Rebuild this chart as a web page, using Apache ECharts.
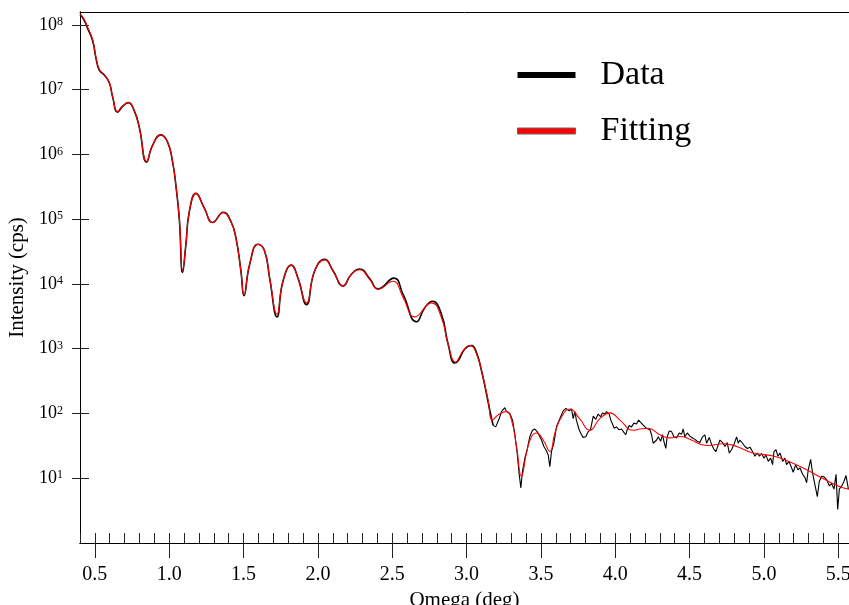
<!DOCTYPE html>
<html>
<head>
<meta charset="utf-8">
<script src="https://cdn.jsdelivr.net/npm/echarts@6/dist/echarts.min.js"></script>
<style>
  html, body { margin: 0; padding: 0; background: #fff; }
  #chart { width: 849px; height: 605px; }
</style>
</head>
<body>
<div id="chart"></div>
<script>
const chart = echarts.init(document.getElementById('chart'));
const serif = "'Liberation Serif', 'Times New Roman', serif";

// fitted curve
const fitOmega = [0.400, 0.425, 0.450, 0.485, 0.507, 0.530, 0.563, 0.597, 0.619, 0.653, 0.686, 0.725, 0.765, 0.799, 0.848,
  0.888, 0.944, 0.989, 1.023, 1.045, 1.068, 1.090, 1.112, 1.135, 1.180, 1.236, 1.292, 1.364, 1.415, 1.449, 1.482, 1.503,
  1.541, 1.597, 1.642, 1.676, 1.725, 1.765, 1.822, 1.866, 1.923, 1.978, 2.046, 2.102, 2.169, 2.225, 2.281, 2.349, 2.404,
  2.505, 2.573, 2.651, 2.764, 2.831, 2.876, 2.925, 2.977, 3.022, 3.067, 3.111, 3.145, 3.174, 3.212, 3.268, 3.302, 3.336,
  3.369, 3.403, 3.437, 3.470, 3.515, 3.560, 3.594, 3.639, 3.695, 3.760, 3.829, 3.896, 3.964, 4.031, 4.121, 4.165, 4.222,
  4.300, 4.367, 4.434, 4.501, 4.614, 4.726, 4.816, 4.928, 5.063, 5.175, 5.287, 5.399, 5.512, 5.572];
const fitIntensity = [1.45e8, 1.25e8, 9.3e7, 5.9e7, 3.2e7, 2.05e7, 1.7e7, 1.29e7, 7.9e6, 4.6e6, 5.6e6, 6.3e6, 4.7e6, 2.6e6, 7.8e5,
  1.38e6, 2.0e6, 1.55e6, 7.6e5, 3.3e5, 1.02e5, 1.6e4, 4.0e4, 1.29e5, 2.5e5, 1.48e5, 8.9e4, 1.26e5, 9.1e4, 5.1e4, 1.6e4, 6.8e3,
  2.0e4, 4.1e4, 3.2e4, 1.23e4, 3.4e3, 1.1e4, 1.95e4, 1.23e4, 5.1e3, 1.58e4, 2.35e4, 1.58e4, 9.3e3, 1.41e4, 1.66e4, 1.17e4, 8.3e3,
  1.1e4, 6.2e3, 3.1e3, 5.1e3, 3.0e3, 1.17e3, 620, 930, 1120, 830, 360, 160, 79, 95, 107, 79, 31,
  10.7, 24.5, 44, 50, 39, 26, 50, 89, 117, 83, 55, 83, 102, 79, 55, 57.5, 59,
  47, 42, 44, 40, 32, 34, 31, 24.5, 22, 17.8, 13.5, 9.8, 7.4, 6.8];

// measured data, smooth part
const dataOmega = [0.400, 0.425, 0.450, 0.485, 0.507, 0.530, 0.563, 0.597, 0.619, 0.653, 0.686, 0.725, 0.765, 0.799, 0.848,
  0.888, 0.944, 0.989, 1.023, 1.045, 1.068, 1.090, 1.112, 1.135, 1.180, 1.236, 1.292, 1.364, 1.415, 1.449, 1.482, 1.503,
  1.541, 1.597, 1.642, 1.676, 1.725, 1.765, 1.822, 1.866, 1.923, 1.978, 2.046, 2.102, 2.169, 2.225, 2.281, 2.349, 2.404,
  2.512, 2.573, 2.663, 2.719, 2.770, 2.831, 2.876, 2.921, 2.943, 2.988, 3.033, 3.066, 3.100, 3.134, 3.156, 3.178];
const dataIntensity = [1.45e8, 1.22e8, 9.0e7, 5.7e7, 3.1e7, 2.0e7, 1.68e7, 1.28e7, 7.8e6, 4.5e6, 5.5e6, 6.3e6, 4.7e6, 2.6e6, 7.6e5,
  1.38e6, 2.0e6, 1.55e6, 7.6e5, 3.3e5, 1.0e5, 1.5e4, 4.0e4, 1.29e5, 2.5e5, 1.48e5, 8.9e4, 1.28e5, 9.2e4, 5.1e4, 1.6e4, 6.6e3,
  2.0e4, 4.1e4, 3.2e4, 1.2e4, 3.1e3, 1.1e4, 1.95e4, 1.23e4, 4.8e3, 1.58e4, 2.4e4, 1.6e4, 9.3e3, 1.41e4, 1.7e4, 1.2e4, 8.4e3,
  1.23e4, 6.9e3, 2.6e3, 4.3e3, 5.4e3, 3.4e3, 1.17e3, 600, 650, 990, 1120, 880, 460, 200, 112, 66];

// measured data, noisy tail
const noisyOmega = [3.178, 3.196, 3.219, 3.235, 3.246, 3.257, 3.268, 3.291, 3.309, 3.324, 3.340, 3.353, 3.365, 3.376, 3.392,
  3.407, 3.425, 3.443, 3.459, 3.475, 3.488, 3.504, 3.520, 3.533, 3.549, 3.560, 3.571, 3.587, 3.605, 3.627, 3.650, 3.668,
  3.690, 3.706, 3.717, 3.728, 3.739, 3.757, 3.773, 3.784, 3.802, 3.818, 3.833, 3.852, 3.869, 3.885, 3.901, 3.914, 3.930,
  3.941, 3.959, 3.970, 3.982, 3.993, 4.008, 4.026, 4.042, 4.058, 4.071, 4.080, 4.094, 4.109, 4.125, 4.143, 4.157, 4.166,
  4.188, 4.210, 4.233, 4.244, 4.255, 4.266, 4.278, 4.289, 4.305, 4.318, 4.327, 4.340, 4.349, 4.363, 4.379, 4.394, 4.412,
  4.430, 4.446, 4.457, 4.468, 4.484, 4.502, 4.520, 4.536, 4.551, 4.569, 4.587, 4.603, 4.614, 4.632, 4.648, 4.663, 4.677,
  4.693, 4.704, 4.722, 4.738, 4.753, 4.767, 4.782, 4.798, 4.816, 4.827, 4.838, 4.856, 4.872, 4.888, 4.906, 4.924, 4.939,
  4.955, 4.969, 4.984, 5.000, 5.013, 5.029, 5.045, 5.058, 5.067, 5.081, 5.094, 5.108, 5.126, 5.141, 5.152, 5.168, 5.186,
  5.197, 5.213, 5.229, 5.242, 5.260, 5.276, 5.287, 5.298, 5.314, 5.327, 5.343, 5.359, 5.372, 5.388, 5.404, 5.422, 5.440,
  5.455, 5.471, 5.485, 5.496, 5.507, 5.523, 5.538, 5.552, 5.568];
const noisyIntensity = [66, 62, 83, 107, 112, 123, 107, 100, 79, 49, 24.5, 12.0, 7.1, 12.9, 20.4,
  27.5, 43.6, 55, 57.5, 52.5, 56, 38.9, 30.9, 27.5, 22.9, 15.1, 25.7, 34.7, 63, 83, 110, 120,
  110, 117, 83, 107, 78, 56, 47, 42.7, 43.6, 52.5, 56, 91, 81, 98, 89, 102, 98,
  107, 98, 79, 83, 59, 62, 56, 57.5, 51, 47, 56, 65, 62, 71, 69, 79, 74,
  66, 59, 56, 47, 34.7, 33, 38.9, 43.6, 37.2, 47, 37.2, 28.8, 43.6, 53.7, 52.5, 43.6, 41.7,
  50, 47.9, 57.5, 43.6, 50, 44.7, 41.7, 39.8, 37.2, 35.5, 43.6, 46.8, 34.7, 42.7, 33.1, 28.2, 25.7,
  33.1, 38.9, 35.5, 30.9, 35.5, 24.5, 27.5, 33.1, 43.6, 34.7, 38.9, 34.7, 30.9, 28.8, 30.2, 25.7, 21.9,
  24.5, 21.9, 24.0, 20.4, 22.9, 18.2, 20.4, 16.2, 25.7, 27.5, 21.9, 24.5, 18.2, 20.4, 16.2, 18.2, 14.5,
  12.3, 16.2, 13.5, 14.5, 11.5, 10.2, 8.5, 13.5, 19.5, 12.0, 7.9, 5.2, 8.9, 10.7, 10.5, 9.5, 7.6,
  8.3, 6.8, 11.5, 3.3, 6.8, 7.6, 8.9, 11.0, 6.8];

const xTickValues = [0.5, 1.0, 1.5, 2.0, 2.5, 3.0, 3.5, 4.0, 4.5, 5.0, 5.5];
const yTickValues = [10, 100, 1e3, 1e4, 1e5, 1e6, 1e7, 1e8];

const xMin = 0.4;
const xMax = 5.572;
const yMin = 1;
const yMax = 1.58e8;

const pairs = (xs, ys) => xs.map((x, i) => [x, ys[i]]);
const plotRect = { left: 80, right: 0, top: 12, bottom: 62, outerBoundsMode: 'none' };

chart.setOption({
  animation: false,
  // grid 0 holds the curves, grid 1 (same rectangle) carries the crossing major ticks
  grid: [Object.assign({}, plotRect), Object.assign({}, plotRect)],
  legend: {
    orient: 'vertical',
    left: 517,
    top: 58,
    padding: 0,
    icon: 'rect',
    itemWidth: 58,
    itemHeight: 6,
    itemGap: 22,
    selectedMode: false,
    textStyle: { fontFamily: serif, fontSize: 34, color: '#000', lineHeight: 34, padding: [0, 0, 0, 20] },
    data: [
      { name: 'Data', itemStyle: { color: '#000', borderWidth: 0 } },
      { name: 'Fitting', itemStyle: { color: '#ff0000', borderColor: '#666', borderWidth: 1 } }
    ]
  },
  xAxis: [
    {
      gridIndex: 0, type: 'value', min: xMin, max: xMax, interval: 0.1, position: 'bottom',
      axisLine: { show: true, onZero: false, lineStyle: { color: '#000', width: 1 } },
      axisTick: { show: true, inside: true, length: 10, lineStyle: { color: '#222', width: 1 } },
      axisLabel: { show: false },
      splitLine: { show: false }
    },
    {
      gridIndex: 0, type: 'value', min: xMin, max: xMax, position: 'top',
      axisLine: { show: true, onZero: false, lineStyle: { color: '#000', width: 1 } },
      axisTick: { show: false },
      axisLabel: { show: false },
      splitLine: { show: false }
    },
    {
      gridIndex: 1, type: 'value', min: xMin, max: xMax, position: 'bottom',
      axisLine: { show: true, onZero: false, lineStyle: { color: '#000', width: 1 } },
      axisTick: { show: true, inside: false, customValues: xTickValues, length: 15, lineStyle: { color: '#222', width: 1 } },
      axisLabel: {
        customValues: xTickValues, margin: 22,
        formatter: (v) => v.toFixed(1),
        fontFamily: serif, fontSize: 20, color: '#000'
      },
      splitLine: { show: false },
      name: 'Omega (deg)', nameLocation: 'middle', nameGap: 44,
      nameTextStyle: { fontFamily: serif, fontSize: 21, color: '#000' }
    }
  ],
  yAxis: [
    {
      gridIndex: 0, type: 'log', min: yMin, max: yMax, position: 'left',
      axisLine: { show: true, onZero: false, lineStyle: { color: '#000', width: 1 } },
      axisTick: { show: true, inside: false, customValues: yTickValues, length: 8, lineStyle: { color: '#222', width: 1 } },
      axisLabel: {
        customValues: yTickValues, margin: 17,
        formatter: (v) => '{b|10}{s|' + Math.round(Math.log10(v)) + '}',
        rich: {
          b: { fontFamily: serif, fontSize: 18, color: '#000' },
          s: { fontFamily: serif, fontSize: 12, color: '#000', verticalAlign: 'top' }
        }
      },
      splitLine: { show: false },
      name: 'Intensity (cps)', nameLocation: 'middle', nameGap: 52,
      nameTextStyle: { fontFamily: serif, fontSize: 21, color: '#000' }
    },
    {
      gridIndex: 1, type: 'log', min: yMin, max: yMax, position: 'left',
      axisLine: { show: true, onZero: false, lineStyle: { color: '#000', width: 1 } },
      axisTick: { show: true, inside: true, customValues: yTickValues, length: 9, lineStyle: { color: '#222', width: 1 } },
      axisLabel: { show: false },
      splitLine: { show: false }
    }
  ],
  series: [
    {
      name: 'Data', type: 'line', xAxisIndex: 0, yAxisIndex: 0,
      data: pairs(dataOmega, dataIntensity),
      smooth: 0.5, showSymbol: false, z: 2,
      lineStyle: { color: '#000', width: 1.6 }, itemStyle: { color: '#000' }
    },
    {
      name: 'Data', type: 'line', xAxisIndex: 0, yAxisIndex: 0,
      data: pairs(noisyOmega, noisyIntensity),
      smooth: false, showSymbol: false, z: 2,
      lineStyle: { color: '#000', width: 1.1 }, itemStyle: { color: '#000' }
    },
    {
      name: 'Fitting', type: 'line', xAxisIndex: 0, yAxisIndex: 0,
      data: pairs(fitOmega, fitIntensity),
      smooth: 0.5, showSymbol: false, z: 3,
      lineStyle: { color: '#ff0000', width: 1.1 }, itemStyle: { color: '#ff0000' }
    },
    {
      // invisible copy so the tick grid has a series bound to it
      type: 'line', xAxisIndex: 2, yAxisIndex: 1,
      data: pairs(fitOmega, fitIntensity),
      showSymbol: false, silent: true, z: 0,
      lineStyle: { opacity: 0 }, itemStyle: { opacity: 0 }
    }
  ]
});
</script>
</body>
</html>
